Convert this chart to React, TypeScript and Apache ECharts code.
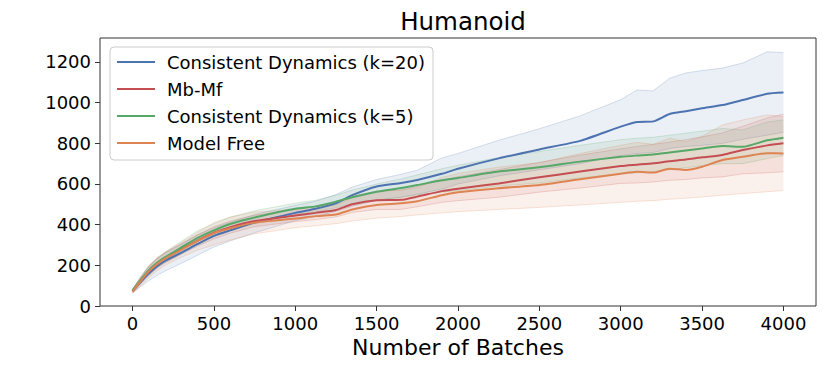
import React, { useEffect, useRef } from "react";
import * as echarts from "echarts";

const batches = [0, 50, 100, 150, 200, 300, 400, 500, 600, 750, 1000, 1125, 1250, 1350, 1500, 1650, 1750, 1900, 2000, 2250, 2500, 2750, 3000, 3100, 3200, 3300, 3400, 3500, 3625, 3750, 3900, 4000];

const xTicks = [0, 500, 1000, 1500, 2000, 2500, 3000, 3500, 4000];
const yTicks = [0, 200, 400, 600, 800, 1000, 1200];

const seriesNames = ["Consistent Dynamics (k=20)", "Mb-Mf", "Consistent Dynamics (k=5)", "Model Free"];
const seriesColors = ["#4C72B0", "#C44E52", "#55A868", "#DD8452"];

const cd20Mean = [72, 118, 160, 195, 222, 262, 305, 345, 372, 410, 458, 478, 505, 545, 588, 605, 620, 650, 675, 726, 770, 812, 882, 905, 908, 944, 958, 972, 988, 1013, 1044, 1050];
const cd20Lower = [64, 95, 125, 150, 172, 210, 250, 290, 320, 360, 420, 440, 465, 490, 520, 535, 550, 575, 600, 640, 670, 700, 740, 750, 755, 775, 785, 790, 800, 820, 840, 855];
const cd20Upper = [80, 140, 192, 232, 262, 305, 350, 385, 412, 450, 495, 515, 548, 585, 622, 648, 668, 728, 750, 815, 872, 935, 1015, 1062, 1058, 1120, 1146, 1158, 1170, 1195, 1250, 1246];

const mbmfMean = [74, 125, 172, 208, 236, 280, 322, 360, 388, 418, 445, 458, 472, 500, 520, 522, 538, 565, 577, 603, 633, 661, 688, 695, 702, 712, 720, 731, 743, 767, 790, 800];
const mbmfLower = [66, 110, 150, 185, 212, 255, 295, 330, 358, 390, 415, 425, 438, 460, 475, 475, 488, 510, 518, 535, 560, 580, 603, 605, 610, 618, 622, 630, 635, 650, 655, 660];
const mbmfUpper = [82, 140, 195, 232, 260, 305, 350, 390, 418, 446, 475, 490, 506, 540, 565, 570, 588, 620, 636, 671, 706, 742, 773, 785, 795, 806, 818, 832, 851, 884, 925, 944];

const cd5Mean = [76, 128, 176, 212, 240, 288, 335, 372, 403, 435, 478, 490, 513, 535, 562, 580, 595, 618, 630, 661, 682, 710, 734, 740, 745, 755, 765, 775, 787, 783, 815, 828];
const cd5Lower = [68, 112, 155, 190, 215, 258, 300, 340, 370, 405, 450, 462, 483, 500, 520, 535, 545, 560, 568, 590, 605, 630, 650, 655, 660, 670, 680, 690, 700, 700, 725, 740];
const cd5Upper = [84, 145, 198, 235, 265, 318, 370, 405, 436, 468, 506, 520, 545, 570, 600, 625, 645, 675, 692, 730, 760, 790, 818, 825, 830, 840, 850, 860, 873, 866, 905, 915];

const mfMean = [70, 122, 170, 206, 233, 276, 320, 358, 382, 410, 430, 442, 450, 475, 497, 505, 515, 545, 559, 579, 595, 623, 650, 660, 656, 675, 669, 685, 718, 734, 751, 750];
const mfLower = [60, 100, 140, 172, 200, 240, 275, 300, 325, 355, 385, 395, 405, 418, 432, 440, 448, 458, 464, 475, 485, 497, 510, 515, 518, 525, 530, 536, 545, 553, 562, 568];
const mfUpper = [80, 142, 198, 238, 265, 312, 362, 410, 438, 462, 475, 490, 495, 532, 562, 570, 582, 632, 652, 683, 705, 750, 790, 805, 795, 825, 808, 834, 890, 915, 940, 932];

const means = [cd20Mean, mbmfMean, cd5Mean, mfMean];
const lowers = [cd20Lower, mbmfLower, cd5Lower, mfLower];
const uppers = [cd20Upper, mbmfUpper, cd5Upper, mfUpper];

const FONT = "DejaVu Sans";

function rgba(hex: string, a: number) {
  const n = parseInt(hex.slice(1), 16);
  return `rgba(${(n >> 16) & 255},${(n >> 8) & 255},${n & 255},${a})`;
}

export default function App() {
  const ref = useRef<HTMLDivElement>(null);
  useEffect(() => {
    document.body.style.margin = "0";
    const chart = echarts.init(ref.current!, null, { renderer: "svg" });
    const series: any[] = [];
    seriesNames.forEach((name, i) => {
      const c = seriesColors[i];
      series.push({
        type: "custom",
        name: name + " band",
        data: batches.map((b, j) => [b, lowers[i][j], uppers[i][j]]),
        encode: { x: 0, y: [1, 2] },
        silent: true,
        z: 1,
        renderItem: (params: any, api: any) => {
          if (params.dataIndex !== 0) return null;
          const top = batches.map((b, j) => api.coord([b, uppers[i][j]]));
          const bot = batches.map((b, j) => api.coord([b, lowers[i][j]])).reverse();
          return {
            type: "group",
            children: [
              { type: "polygon", shape: { points: top.concat(bot) }, style: { fill: rgba(c, 0.11), stroke: null } },
              { type: "polyline", shape: { points: top }, style: { stroke: rgba(c, 0.22), lineWidth: 1, fill: null } },
              { type: "polyline", shape: { points: bot }, style: { stroke: rgba(c, 0.22), lineWidth: 1, fill: null } },
            ],
          };
        },
      });
      series.push({
        type: "line",
        name,
        data: batches.map((b, j) => [b, means[i][j]]),
        symbol: "none",
        smooth: 0.2,
        color: c,
        itemStyle: { color: c },
        lineStyle: { color: c, width: 2 },
        z: 3,
      });
    });

    chart.setOption({
      animation: false,
      backgroundColor: "#ffffff",
      title: {
        text: "Humanoid",
        left: 458,
        top: 4,
        textAlign: "center",
        textStyle: { fontFamily: FONT, fontSize: 24.5, fontWeight: "normal", color: "#000" },
      },
      grid: {
        left: 100,
        top: 38,
        right: 15,
        bottom: 66,
        show: true,
        borderColor: "#333",
        borderWidth: 1,
        backgroundColor: "transparent",
        containLabel: false,
        outerBoundsMode: "none",
      },
      legend: {
        data: seriesNames,
        orient: "vertical",
        left: 110,
        top: 47,
        padding: [6, 8, 8, 7],
        itemGap: 9,
        itemWidth: 38,
        itemHeight: 2,
        icon: "rect",
        backgroundColor: "rgba(255,255,255,0.8)",
        borderColor: "#cccccc",
        borderWidth: 1,
        borderRadius: 4,
        z: 10,
        textStyle: { fontFamily: FONT, fontSize: 18, color: "#000", lineHeight: 18, padding: [0, 0, 0, 7] },
      },
      xAxis: {
        type: "value",
        min: -200,
        max: 4200,
        name: "Number of Batches",
        nameLocation: "middle",
        nameGap: 30,
        nameTextStyle: { fontFamily: FONT, fontSize: 22, color: "#000" },
        axisLine: { show: false, onZero: false },
        axisTick: { show: true, length: 5, lineStyle: { color: "#333" }, customValues: xTicks },
        axisLabel: { fontFamily: FONT, fontSize: 18, color: "#000", margin: 8, customValues: xTicks, formatter: (v: number) => String(v) },
        splitLine: { show: false },
      },
      yAxis: {
        type: "value",
        min: 0,
        max: 1318,
        axisLine: { show: false, onZero: false },
        axisTick: { show: true, length: 5, lineStyle: { color: "#333" }, customValues: yTicks },
        axisLabel: { fontFamily: FONT, fontSize: 18, color: "#000", margin: 9, customValues: yTicks, formatter: (v: number) => String(v) },
        splitLine: { show: false },
      },
      series,
    });
    return () => chart.dispose();
  }, []);
  return <div ref={ref} style={{ width: 831, height: 372 }} />;
}
